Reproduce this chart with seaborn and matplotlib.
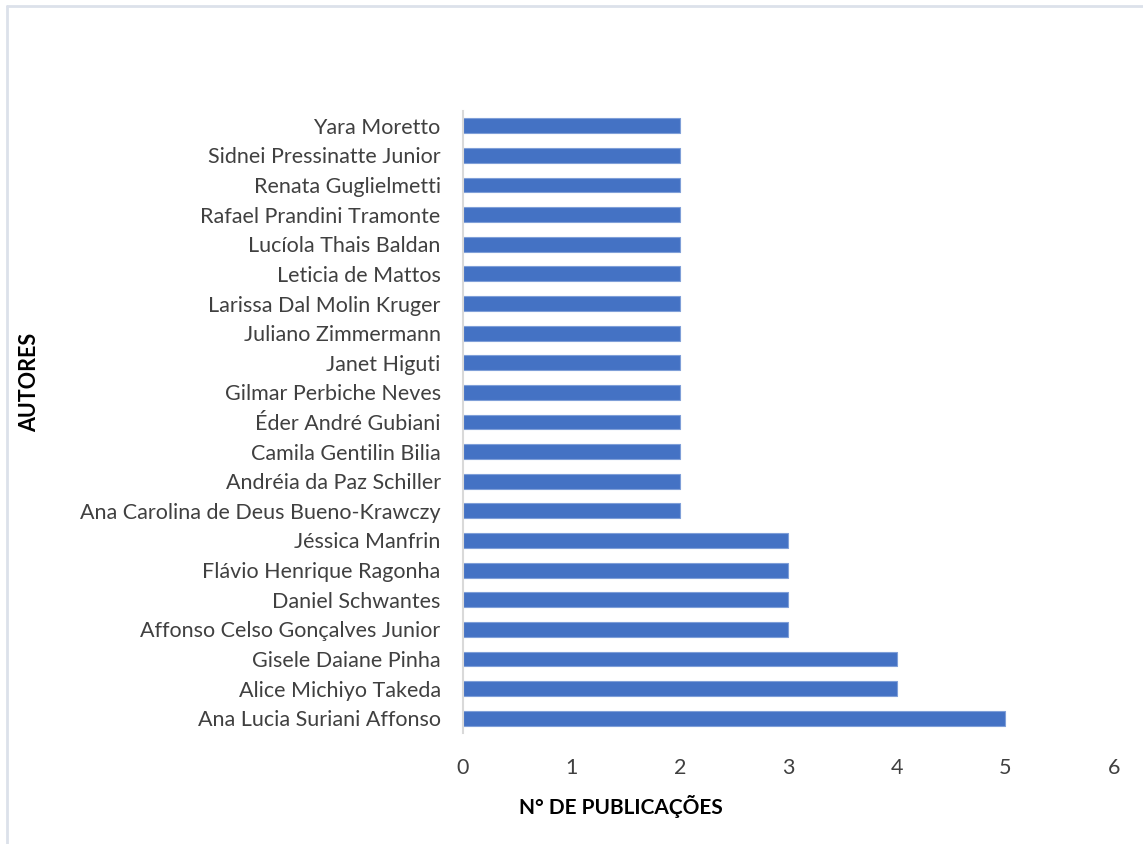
import matplotlib
matplotlib.use("Agg")
import matplotlib.pyplot as plt
from matplotlib.lines import Line2D
import seaborn as sns
import pandas as pd

autores = [
    "Yara Moretto",
    "Sidnei Pressinatte Junior",
    "Renata Guglielmetti",
    "Rafael Prandini Tramonte",
    "Lucíola Thais Baldan",
    "Leticia de Mattos",
    "Larissa Dal Molin Kruger",
    "Juliano Zimmermann",
    "Janet Higuti",
    "Gilmar Perbiche Neves",
    "Éder André Gubiani",
    "Camila Gentilin Bilia",
    "Andréia da Paz Schiller",
    "Ana Carolina de Deus Bueno-Krawczy",
    "Jéssica Manfrin",
    "Flávio Henrique Ragonha",
    "Daniel Schwantes",
    "Affonso Celso Gonçalves Junior",
    "Gisele Daiane Pinha",
    "Alice Michiyo Takeda",
    "Ana Lucia Suriani Affonso",
]
publicacoes = [2, 2, 2, 2, 2, 2, 2, 2, 2, 2, 2, 2, 2, 2, 3, 3, 3, 3, 4, 4, 5]
x_ticks = [0, 1, 2, 3, 4, 5, 6]

df = pd.DataFrame({"autor": autores, "n": publicacoes})

sns.set_theme(style="white")
plt.rcParams["font.family"] = ["Lato", "DejaVu Sans"]

fig = plt.figure(figsize=(11.43, 8.44), dpi=100)
ax = fig.add_axes([0.405, 0.1315, 0.5696, 0.737])

sns.barplot(data=df, x="n", y="autor", orient="h", color="#4472C4",
            saturation=1, width=0.5, edgecolor="#7F9FD8", linewidth=0.8, ax=ax)

ax.set_xlim(0, 6)
ax.set_xticks(x_ticks)
ax.set_xticklabels([str(t) for t in x_ticks])
ax.tick_params(axis="x", length=0, pad=18, labelsize=15.5, labelcolor="#404040")
ax.tick_params(axis="y", length=0, pad=16, labelsize=15.5, labelcolor="#404040")

for s in ["top", "right", "bottom"]:
    ax.spines[s].set_visible(False)
ax.spines["left"].set_color("#D9D9D9")
ax.spines["left"].set_linewidth(1.5)
ax.grid(False)

ax.set_xlabel("N° DE PUBLICAÇÕES", fontsize=15, fontweight="bold", color="black")
ax.xaxis.set_label_coords(0.243, -0.1)
ax.set_ylabel("AUTORES", fontsize=15.5, fontweight="bold", color="black")
ax.yaxis.set_label_coords(-0.65, 0.564)

# frame lines along the top and left edges of the figure
fig.add_artist(Line2D([7 / 1143, 1.0], [1 - 6 / 844, 1 - 6 / 844],
                      color="#DCE1EA", linewidth=2, transform=fig.transFigure))
fig.add_artist(Line2D([7 / 1143, 7 / 1143], [0.0, 1 - 6 / 844],
                      color="#DCE1EA", linewidth=2, transform=fig.transFigure))

fig.savefig("out.png", dpi=100, facecolor="white")
